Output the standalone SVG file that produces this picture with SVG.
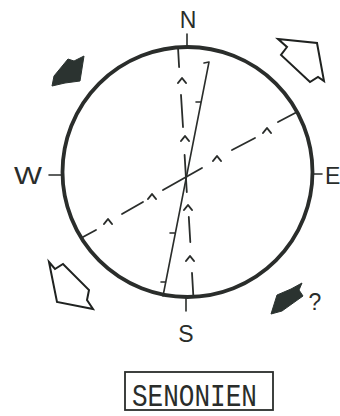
<svg xmlns="http://www.w3.org/2000/svg" width="340" height="416" viewBox="0 0 340 416">
<style>
.lbl{font-family:"Liberation Sans","DejaVu Sans",sans-serif;font-size:23px;fill:#2a2d2b}
.ink{stroke:#2a2d2b;fill:none;stroke-linecap:round;stroke-linejoin:round}
.dash{stroke-width:1.8}
.filled{fill:#2b3330;stroke:#2b3330;stroke-width:1;stroke-linejoin:round}
.hollow{fill:#fff;stroke:#1f2220;stroke-width:2;stroke-linejoin:miter}
</style>
<rect width="340" height="416" fill="#fff"/>
<g id="compass">
  <circle class="ink" cx="187.5" cy="172" r="125" stroke-width="3.8"/>
  <path class="ink" stroke-width="1.6" d="M187 34 V47 M186 297 V311 M49 175 H62 M313 174 H322"/>
</g>
<g id="labels">
  <text class="lbl" x="188" y="28" text-anchor="middle">N</text>
  <text class="lbl" x="186" y="342" text-anchor="middle">S</text>
  <text class="lbl" x="28" y="184" text-anchor="middle" font-size="24" textLength="28" lengthAdjust="spacingAndGlyphs">W</text>
  <text class="lbl" x="325" y="184">E</text>
</g>
<g id="connectors">
  <path class="ink" stroke-width="1.6" d="M209 62 L163 296 M209 62 L204 63 M201 102 L196 102 M175 233 L170 233 M166 282 L161 282"/>
  <path class="ink dash" d="M178.1 49 L179.1 67 M181 95 L183 127 M184.6 155 L186.8 192 M188.8 217 L190.3 242 M192 273 L193.4 297"/>
  <path class="ink" stroke-width="2" d="M178 83 L182 78 L186 83 M181 141 L185 136 L189 141 M184 210 L188 205 L192 210 M186 261 L190 256 L194 261"/>
  <path class="ink dash" d="M83 237 L96 230 M122 214 L143 202 M163 190 L202 168 M232 150 L255 138 M278 122 L297 112"/>
  <path class="ink" stroke-width="2" d="M104 224 L108 219 L112 224 M148 199 L152 194 L156 199 M213 161 L217 156 L221 161 M263 133 L267 128 L271 133"/>
</g>
<g id="arrow-nw">
  <polygon class="filled" points="52,86 54,76 68,59 74,61 84,56 80,81 65,83"/>
</g>
<g id="arrow-se">
  <polygon class="filled" points="271,314 277,295 291,289 302,283 299,290 303,296 282,311"/>
  <text class="lbl" x="315" y="310" text-anchor="middle" font-size="21">?</text>
</g>
<g id="arrow-ne">
  <polygon class="hollow" points="278,39 317,43 324,81 318,77 310,82 281,55 287,47"/>
</g>
<g id="arrow-sw">
  <polygon class="hollow" points="49,262 55,269 63,264 89,290 87,300 93,309 57,302"/>
</g>
<g id="title">
  <rect x="125" y="372" width="148" height="38" fill="none" stroke="#2a2d2b" stroke-width="1.8"/>
  <text x="132" y="406" font-family="'Liberation Mono','DejaVu Sans Mono',monospace" font-size="31" textLength="125" lengthAdjust="spacingAndGlyphs" fill="#2a2d2b">SENONIEN</text>
</g>
</svg>
